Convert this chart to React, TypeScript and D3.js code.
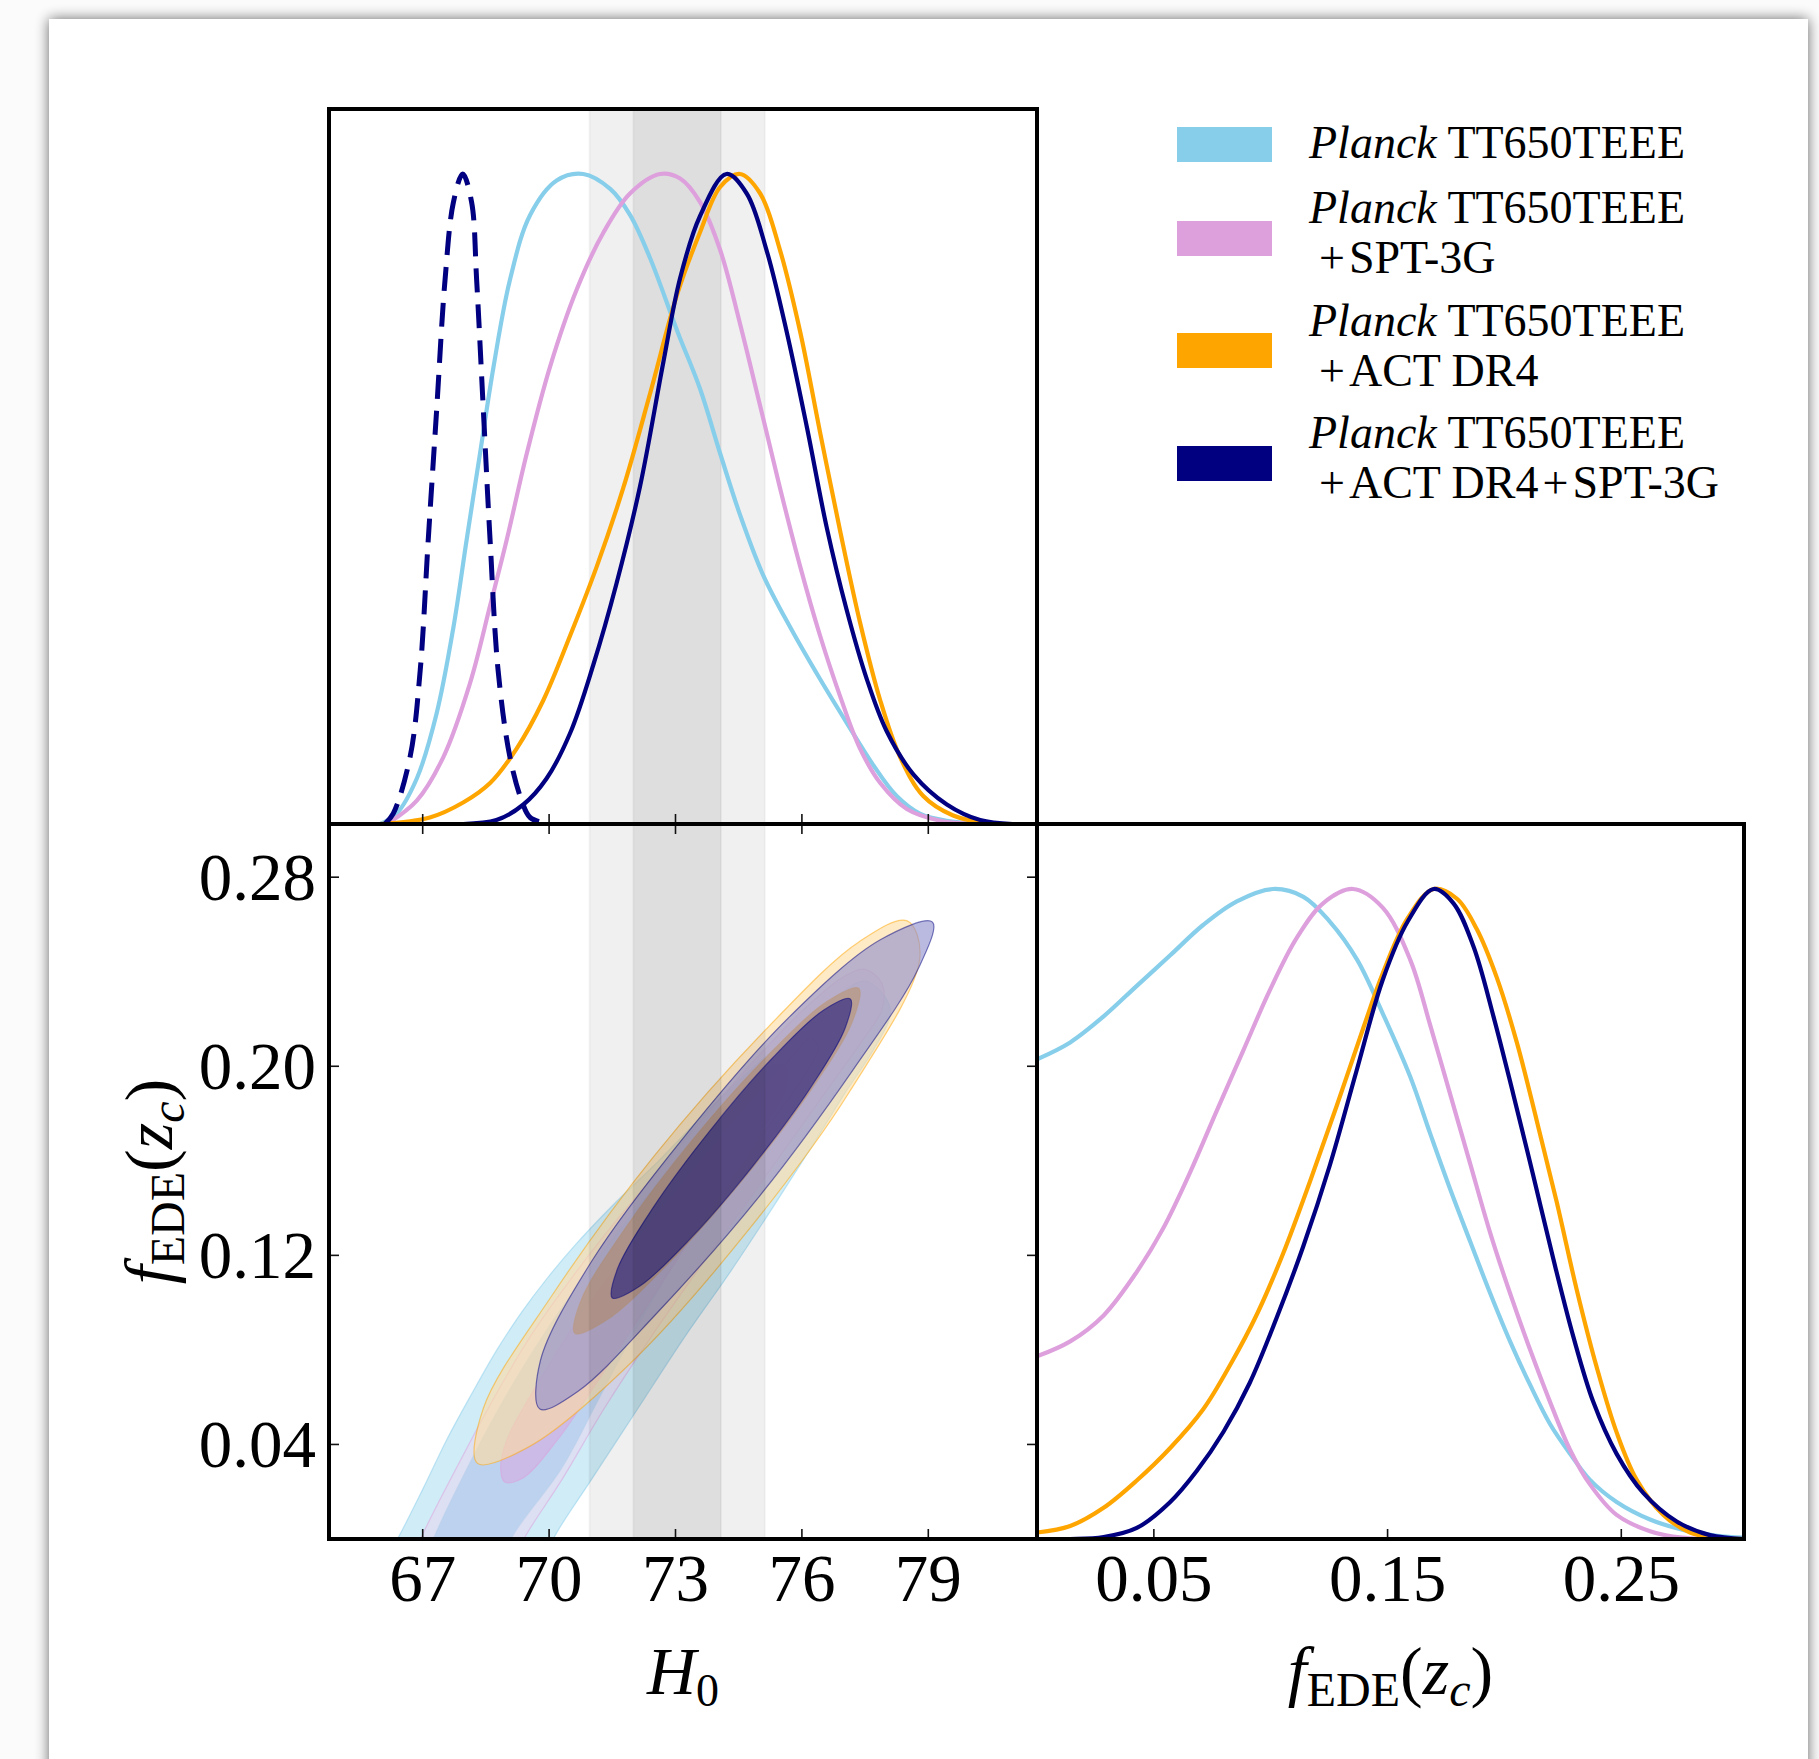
import React, { useEffect } from 'react';
import * as d3 from 'd3';

type P = [number, number];

const W = 1819;
const H = 1759;

// ---------- axes / ticks ----------
const h0Domain: [number, number] = [64.776, 81.58];
const fDomain: [number, number] = [0, 0.3025];
const pDomain: [number, number] = [0, 1.1];
const h0Ticks = [67, 70, 73, 76, 79];
const fTicksY = [0.04, 0.12, 0.2, 0.28];
const fTicksX = [0.05, 0.15, 0.25];

// SH0ES bands (2 sigma, 1 sigma) in H0
const shoesBand2: [number, number] = [70.96, 75.12];
const shoesBand1: [number, number] = [72.0, 74.08];

// ---------- series meta ----------
const seriesNames = ['Planck', 'PlanckSPT', 'PlanckACT', 'PlanckACTSPT'];
const seriesColors = ['#87CEEB', '#DDA0DD', '#FFA500', '#000080'];
const tint95 = ['#c3e7f5', '#eed0ee', '#ffdca0', '#8c8ccd'];
const op95 = [0.8, 0.45, 0.6, 0.6];
const op68 = [0.8, 0.45, 0.7, 0.5];
const legendLine1 = ['TT650TEEE', 'TT650TEEE', 'TT650TEEE', 'TT650TEEE'];
const legendLine2: string[][] = [[], ['SPT-3G'], ['ACT DR4'], ['ACT DR4', 'SPT-3G']];

// ---------- 1D H0 posteriors ----------
const h0Planck: P[] = [[65.99,0],[66.38,0.016],[66.86,0.07],[67.33,0.17],[67.73,0.303],[68.04,0.436],[68.36,0.57],[68.68,0.703],[69.07,0.837],[69.55,0.937],[70.18,0.99],[70.81,1.0],[71.45,0.977],[71.92,0.937],[72.4,0.87],[73.05,0.757],[73.58,0.67],[74.06,0.57],[74.53,0.476],[75.08,0.383],[75.72,0.303],[76.43,0.223],[77.06,0.156],[77.7,0.09],[78.25,0.043],[78.8,0.016],[79.44,0.005],[80.5,0]];
const h0PlanckSPT: P[] = [[66.15,0],[66.86,0.036],[67.49,0.103],[68.12,0.216],[68.6,0.336],[68.99,0.436],[69.47,0.57],[70.02,0.703],[70.66,0.823],[71.29,0.91],[71.92,0.97],[72.63,1.0],[73.11,0.993],[73.58,0.957],[74.06,0.883],[74.53,0.77],[75.01,0.643],[75.48,0.517],[75.96,0.396],[76.43,0.29],[76.91,0.196],[77.38,0.116],[77.86,0.063],[78.49,0.023],[79.28,0.005],[80.2,0]];
const h0PlanckACT: P[] = [[65.99,0],[67.17,0.01],[67.96,0.033],[68.6,0.063],[69.23,0.116],[69.86,0.19],[70.5,0.29],[71.13,0.396],[71.76,0.517],[72.4,0.663],[73.05,0.817],[73.58,0.91],[74.06,0.98],[74.53,1.0],[75.01,0.97],[75.48,0.883],[75.96,0.757],[76.43,0.603],[76.91,0.45],[77.38,0.31],[77.86,0.19],[78.33,0.103],[78.88,0.043],[79.59,0.013],[80.5,0]];
const h0PlanckACTSPT: P[] = [[67.96,0],[68.75,0.006],[69.39,0.03],[69.94,0.07],[70.5,0.14],[71.05,0.245],[71.6,0.37],[72.16,0.52],[72.71,0.71],[73.11,0.84],[73.58,0.935],[74.21,1.0],[74.69,0.97],[75.16,0.883],[75.64,0.757],[76.12,0.61],[76.59,0.456],[77.06,0.33],[77.54,0.223],[78.01,0.143],[78.65,0.076],[79.44,0.03],[80.23,0.006],[81.0,0]];
const h0LCDM: P[] = [[66.1,0],[66.3,0.016],[66.7,0.103],[66.94,0.236],[67.13,0.436],[67.33,0.636],[67.53,0.837],[67.73,0.957],[67.95,1.0],[68.16,0.957],[68.28,0.837],[68.44,0.636],[68.6,0.436],[68.79,0.236],[69.07,0.103],[69.35,0.036],[69.55,0.01],[70.0,0]];

// ---------- 1D fEDE posteriors ----------
const fPlanck: P[] = [[0,0.738],[0.0142,0.764],[0.0285,0.804],[0.0427,0.851],[0.057,0.898],[0.0712,0.945],[0.0855,0.981],[0.101,1.0],[0.114,0.988],[0.125,0.951],[0.137,0.891],[0.148,0.808],[0.1597,0.711],[0.1682,0.624],[0.1768,0.538],[0.1853,0.458],[0.1939,0.378],[0.2024,0.304],[0.211,0.237],[0.2195,0.177],[0.2281,0.131],[0.2366,0.091],[0.248,0.057],[0.2623,0.03],[0.2765,0.014],[0.291,0.005],[0.3025,0.002]];
const fPlanckSPT: P[] = [[0,0.281],[0.0142,0.304],[0.0285,0.344],[0.0427,0.411],[0.054,0.478],[0.0655,0.564],[0.0768,0.658],[0.0882,0.751],[0.0996,0.844],[0.111,0.924],[0.1224,0.978],[0.1352,1.0],[0.148,0.971],[0.1597,0.891],[0.1682,0.791],[0.1768,0.684],[0.1853,0.578],[0.1939,0.471],[0.2024,0.378],[0.211,0.291],[0.2195,0.211],[0.2281,0.137],[0.2366,0.084],[0.248,0.037],[0.2623,0.012],[0.276,0.002],[0.3025,0]];
const fPlanckACT: P[] = [[0,0.01],[0.0142,0.02],[0.0285,0.048],[0.0427,0.09],[0.057,0.14],[0.0712,0.2],[0.083,0.27],[0.094,0.345],[0.1054,0.44],[0.1168,0.55],[0.1281,0.665],[0.1395,0.785],[0.1479,0.87],[0.1586,0.955],[0.1697,1.0],[0.1797,0.985],[0.1882,0.938],[0.1967,0.864],[0.2053,0.764],[0.2138,0.644],[0.2224,0.518],[0.2309,0.384],[0.2395,0.264],[0.248,0.164],[0.2566,0.091],[0.268,0.037],[0.2794,0.01],[0.29,0.002],[0.3025,0]];
const fPlanckACTSPT: P[] = [[0,0],[0.0142,0.0],[0.0285,0.003],[0.0427,0.017],[0.057,0.057],[0.0684,0.105],[0.0798,0.165],[0.091,0.24],[0.1025,0.34],[0.1139,0.45],[0.1253,0.575],[0.1367,0.72],[0.1479,0.86],[0.1586,0.95],[0.1697,1.0],[0.1782,0.978],[0.1868,0.911],[0.1953,0.804],[0.2038,0.684],[0.2124,0.558],[0.2209,0.431],[0.2295,0.311],[0.238,0.211],[0.248,0.131],[0.2594,0.071],[0.2737,0.027],[0.2879,0.006],[0.3025,0]];

// ---------- 2D contours (H0, fEDE) ----------
const cPlanck95: P[] = [[66.0,-0.012],[66.4,0.0],[67.0,0.021],[67.57,0.042],[68.15,0.061],[68.76,0.08],[69.35,0.096],[69.94,0.11],[70.6,0.124],[71.5,0.141],[72.6,0.16],[73.8,0.182],[75.0,0.202],[76.2,0.22],[77.0,0.232],[77.5,0.236],[77.95,0.23],[78.1,0.222],[77.7,0.207],[77.0,0.188],[76.2,0.165],[75.3,0.14],[74.3,0.113],[73.2,0.085],[72.1,0.055],[71.0,0.025],[70.1,0.0],[69.85,-0.012]];
const cPlanck68: P[] = [[67.0,-0.012],[67.25,0.0],[68.0,0.028],[68.8,0.055],[69.6,0.079],[70.5,0.103],[71.5,0.127],[72.5,0.149],[73.5,0.17],[74.5,0.189],[75.2,0.2],[75.6,0.2],[75.6,0.19],[75.0,0.172],[74.1,0.148],[73.1,0.12],[72.1,0.09],[71.2,0.06],[70.3,0.03],[69.1,0.0],[68.9,-0.012]];
const cSPT95: P[] = [[66.7,-0.012],[66.95,0.0],[67.8,0.03],[68.7,0.06],[69.6,0.087],[70.6,0.112],[71.7,0.137],[72.8,0.16],[73.9,0.183],[75.0,0.205],[76.1,0.225],[77.0,0.238],[77.5,0.241],[77.9,0.235],[77.9,0.224],[77.4,0.21],[76.6,0.19],[75.6,0.165],[74.6,0.14],[73.5,0.113],[72.4,0.085],[71.3,0.055],[70.3,0.025],[69.4,0.0],[69.1,-0.012]];
const cSPT68: P[] = [[68.95,0.024],[68.85,0.03],[69.0,0.042],[69.6,0.062],[70.5,0.088],[71.5,0.113],[72.6,0.138],[73.7,0.162],[74.8,0.185],[75.7,0.203],[76.2,0.212],[76.4,0.208],[76.1,0.197],[75.4,0.179],[74.4,0.154],[73.4,0.128],[72.3,0.098],[71.2,0.068],[70.2,0.042],[69.4,0.026]];
const cACT95: P[] = [[78.5,0.2615],[78.8,0.246],[77.13,0.1892],[74.7,0.13],[71.98,0.0752],[69.55,0.0393],[68.3,0.032],[68.44,0.0553],[70.06,0.1028],[72.49,0.162],[75.21,0.2168],[77.36,0.2527]];
const cACT68: P[] = [[77.35,0.233],[77.2,0.2189],[76.18,0.189],[74.57,0.1514],[72.8,0.116],[71.35,0.0924],[70.61,0.087],[70.76,0.1011],[71.79,0.131],[73.39,0.1686],[75.16,0.204],[76.61,0.2276]];
const cACTSPT95: P[] = [[79.1,0.261],[78.75,0.2408],[77.21,0.1984],[75.0,0.1452],[72.55,0.0954],[70.68,0.0624],[69.78,0.055],[69.79,0.0752],[71.01,0.1175],[73.23,0.1707],[75.68,0.2205],[77.86,0.2535]];
const cACTSPT68: P[] = [[77.15,0.2285],[77.03,0.2163],[76.19,0.1905],[74.84,0.1579],[73.36,0.1272],[72.14,0.1068],[71.5,0.102],[71.62,0.1142],[72.46,0.14],[73.81,0.1726],[75.29,0.2033],[76.51,0.2237]];

const h0Series = [h0Planck, h0PlanckSPT, h0PlanckACT, h0PlanckACTSPT];
const fSeries = [fPlanck, fPlanckSPT, fPlanckACT, fPlanckACTSPT];
const contours95 = [cPlanck95, cSPT95, cACT95, cACTSPT95];
const contours68 = [cPlanck68, cSPT68, cACT68, cACTSPT68];

const SERIF = "'Liberation Serif', 'Times New Roman', 'DejaVu Serif', serif";

// panel geometry
const L = 329, M = 1037, R = 1744;
const T = 109, MID = 824, B = 1539;

export default function App() {
  useEffect(() => {
    document.body.style.margin = '0';
  }, []);

  const xH = d3.scaleLinear().domain(h0Domain).range([L, M]);
  const yPt = d3.scaleLinear().domain(pDomain).range([MID, T]);
  const yF = d3.scaleLinear().domain(fDomain).range([B, MID]);
  const xF = d3.scaleLinear().domain(fDomain).range([M, R]);
  const yPb = d3.scaleLinear().domain(pDomain).range([B, MID]);

  const lineH0 = d3.line<P>().x(d => xH(d[0])).y(d => yPt(d[1])).curve(d3.curveCatmullRom.alpha(0.5));
  const lineF = d3.line<P>().x(d => xF(d[0])).y(d => yPb(d[1])).curve(d3.curveCatmullRom.alpha(0.5));
  const contourLine = d3.line<P>().x(d => xH(d[0])).y(d => yF(d[1])).curve(d3.curveCatmullRomClosed.alpha(0.5));
  const fmt2 = d3.format('.2f');

  const tickLen = 10;
  const tickStyle = { stroke: '#111', strokeWidth: 1.6 };

  const band = (y0: number, y1: number) => (
    <g>
      <rect x={xH(shoesBand2[0])} y={y0} width={xH(shoesBand2[1]) - xH(shoesBand2[0])} height={y1 - y0} fill="#000" fillOpacity={0.059} />
      <rect x={xH(shoesBand1[0])} y={y0} width={xH(shoesBand1[1]) - xH(shoesBand1[0])} height={y1 - y0} fill="#000" fillOpacity={0.075} />
      {[shoesBand2[0], shoesBand2[1], shoesBand1[0], shoesBand1[1]].map((v, i) => (
        <line key={i} x1={xH(v)} x2={xH(v)} y1={y0} y2={y1} stroke="#000" strokeOpacity={0.04} strokeWidth={2} />
      ))}
    </g>
  );

  const legendY = [127, 221, 333, 446];
  const legendBase1 = [158, 223, 336, 448];
  const tickFont = 67;
  const legendFont = 46;

  return (
    <svg width={W} height={H} style={{ position: 'absolute', left: 0, top: 0, display: 'block' }} fontFamily={SERIF}>
      <defs>
        <filter id="shadow" x="-5%" y="-5%" width="110%" height="110%">
          <feGaussianBlur in="SourceAlpha" stdDeviation="7" />
          <feComponentTransfer>
            <feFuncA type="linear" slope="0.6" />
          </feComponentTransfer>
          <feMerge>
            <feMergeNode />
            <feMergeNode in="SourceGraphic" />
          </feMerge>
        </filter>
        <clipPath id="clipTL"><rect x={L} y={T} width={M - L} height={MID - T} /></clipPath>
        <clipPath id="clipBL"><rect x={L} y={MID} width={M - L} height={B - MID} /></clipPath>
        <clipPath id="clipBR"><rect x={M} y={MID} width={R - M} height={B - MID} /></clipPath>
      </defs>

      <rect x={0} y={0} width={W} height={H} fill="#fbfbfb" />
      <rect x={49} y={19} width={1759} height={1800} fill="#fff" filter="url(#shadow)" />

      {/* ---------- top-left: H0 1D ---------- */}
      <g clipPath="url(#clipTL)">
        {band(T, MID)}
        {h0Series.map((s, i) => (
          <path key={i} d={lineH0(s) || ''} fill="none" stroke={seriesColors[i]} strokeWidth={4.2} />
        ))}
        <path d={lineH0(h0LCDM) || ''} fill="none" stroke="#000080" strokeWidth={5} strokeDasharray="24,12" />
      </g>
      {h0Ticks.map(t => (
        <line key={'tlb' + t} x1={xH(t)} x2={xH(t)} y1={MID} y2={MID - tickLen} {...tickStyle} />
      ))}
      <rect x={L} y={T} width={M - L} height={MID - T} fill="none" stroke="#000" strokeWidth={4} />

      {/* ---------- bottom-left: 2D ---------- */}
      <g clipPath="url(#clipBL)">
        {contours95.map((c95, i) => (
          <g key={i}>
            <path d={contourLine(c95) || ''} fill={tint95[i]} fillOpacity={op95[i]} stroke={seriesColors[i]} strokeOpacity={0.5} strokeWidth={1.2} />
            <path d={contourLine(contours68[i]) || ''} fill={seriesColors[i]} fillOpacity={op68[i]} stroke={seriesColors[i]} strokeOpacity={0.5} strokeWidth={1.2} />
          </g>
        ))}
        {band(MID, B)}
      </g>
      {h0Ticks.map(t => (
        <g key={'blx' + t}>
          <line x1={xH(t)} x2={xH(t)} y1={B} y2={B - tickLen} {...tickStyle} />
          <line x1={xH(t)} x2={xH(t)} y1={MID} y2={MID + tickLen} {...tickStyle} />
        </g>
      ))}
      {fTicksY.map(t => (
        <g key={'bly' + t}>
          <line x1={L} x2={L + tickLen} y1={yF(t)} y2={yF(t)} {...tickStyle} />
          <line x1={M} x2={M - tickLen} y1={yF(t)} y2={yF(t)} {...tickStyle} />
          <text x={316} y={yF(t) + 23} textAnchor="end" fontSize={tickFont} fill="#000">{fmt2(t)}</text>
        </g>
      ))}
      {h0Ticks.map(t => (
        <text key={'blxl' + t} x={xH(t)} y={1601} textAnchor="middle" fontSize={tickFont} fill="#000">{t}</text>
      ))}
      <rect x={L} y={MID} width={M - L} height={B - MID} fill="none" stroke="#000" strokeWidth={4} />

      {/* ---------- bottom-right: fEDE 1D ---------- */}
      <g clipPath="url(#clipBR)">
        {fSeries.map((s, i) => (
          <path key={i} d={lineF(s) || ''} fill="none" stroke={seriesColors[i]} strokeWidth={4.2} />
        ))}
      </g>
      {fTicksX.map(t => (
        <g key={'brx' + t}>
          <line x1={xF(t)} x2={xF(t)} y1={B} y2={B - tickLen} {...tickStyle} />
          <text x={xF(t)} y={1601} textAnchor="middle" fontSize={tickFont} fill="#000">{fmt2(t)}</text>
        </g>
      ))}
      <rect x={M} y={MID} width={R - M} height={B - MID} fill="none" stroke="#000" strokeWidth={4} />

      {/* ---------- axis labels ---------- */}
      <text x={(L + M) / 2} y={1694} textAnchor="middle" fontSize={68} fill="#000">
        <tspan fontStyle="italic">H</tspan>
        <tspan fontSize={46} dy={12}>0</tspan>
      </text>
      <text x={(M + R) / 2} y={1694} textAnchor="middle" fontSize={68} fill="#000">
        <tspan fontStyle="italic">f</tspan>
        <tspan fontSize={48} dy={12}>EDE</tspan>
        <tspan dy={-12}>(</tspan>
        <tspan fontStyle="italic">z</tspan>
        <tspan fontStyle="italic" fontSize={48} dy={12}>c</tspan>
        <tspan dy={-12}>)</tspan>
      </text>
      <text transform={`translate(172,${(MID + B) / 2}) rotate(-90)`} textAnchor="middle" fontSize={68} fill="#000">
        <tspan fontStyle="italic">f</tspan>
        <tspan fontSize={48} dy={12}>EDE</tspan>
        <tspan dy={-12}>(</tspan>
        <tspan fontStyle="italic">z</tspan>
        <tspan fontStyle="italic" fontSize={48} dy={12}>c</tspan>
        <tspan dy={-12}>)</tspan>
      </text>

      {/* ---------- legend ---------- */}
      {seriesNames.map((n, i) => (
        <g key={n}>
          <rect x={1177} y={legendY[i]} width={95} height={35} fill={seriesColors[i]} />
          <text x={1309} y={legendBase1[i]} fontSize={legendFont} fill="#000">
            <tspan fontStyle="italic">Planck</tspan>
            <tspan> {legendLine1[i]}</tspan>
          </text>
          {legendLine2[i].length > 0 && (
            <text x={1319} y={legendBase1[i] + 50} fontSize={legendFont} fill="#000">
              {legendLine2[i].map((part, j) => (
                <React.Fragment key={j}>
                  <tspan dx={j === 0 ? 0 : 4}>+</tspan>
                  <tspan dx={4}>{part}</tspan>
                </React.Fragment>
              ))}
            </text>
          )}
        </g>
      ))}
    </svg>
  );
}
